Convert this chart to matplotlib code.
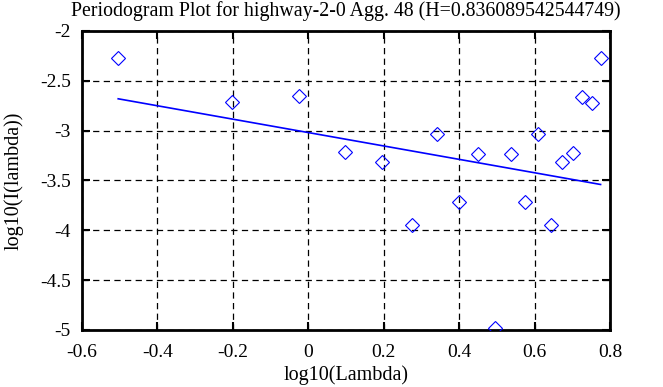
import matplotlib
matplotlib.use('Agg')
import matplotlib.pyplot as plt
import numpy as np

H = 0.836089542544749
title = 'Periodogram Plot for highway-2-0 Agg. 48 (H=%s)' % H

# log10(lambda), log10(I(lambda))
log_lambda = [-0.504, -0.202, -0.024, 0.098, 0.195, 0.274, 0.342, 0.400, 0.451,
              0.496, 0.537, 0.575, 0.610, 0.643, 0.672, 0.701, 0.725, 0.752, 0.775]
log_I = [-2.27, -2.71, -2.65, -3.21, -3.31, -3.95, -3.03, -3.72, -3.23,
         -4.98, -3.23, -3.72, -3.03, -3.95, -3.31, -3.22, -2.66, -2.72, -2.27]

# fitted line: slope = 1 - 2H
slope = 1 - 2 * H
intercept = -3.019

plt.rcParams['font.family'] = ['Liberation Serif', 'DejaVu Serif']

fig = plt.figure(figsize=(6.63, 3.87), dpi=100)
ax = fig.add_axes([82 / 663, 57 / 387, 528 / 663, 299 / 387])

x = np.array(log_lambda)
ax.plot(x, log_I, 'D', ms=7, mfc='none', mec='blue', mew=0.8, zorder=3)
xf = np.array([x.min(), x.max()])
ax.plot(xf, intercept + slope * xf, color='blue', lw=1.2, zorder=3)

ax.set_xlim(-0.6, 0.8)
ax.set_ylim(-5, -2)
ax.set_xticks(np.arange(-0.6, 0.81, 0.2))
ax.set_xticklabels(['-0.6', '-0.4', '-0.2', '0', '0.2', '0.4', '0.6', '0.8'])
ax.set_yticks(np.arange(-5, -1.9, 0.5))
ax.set_yticklabels(['-5', '-4.5', '-4', '-3.5', '-3', '-2.5', '-2'])

ax.grid(True, color='black', linestyle=(0, (5, 3.5)), linewidth=0.9)
for s in ax.spines.values():
    s.set_linewidth(2)
ax.tick_params(direction='in', length=6, width=1.5, top=True, right=True,
               labelsize=14)
ax.tick_params(axis='x', pad=10)
ax.tick_params(axis='y', pad=8)

ax.set_title(title, fontsize=14.3, pad=11)
ax.set_xlabel('log10(Lambda)', fontsize=14.5, labelpad=3)
ax.set_ylabel('log10(I(lambda))', fontsize=14.5, labelpad=12)

fig.savefig('out.png', dpi=100)
